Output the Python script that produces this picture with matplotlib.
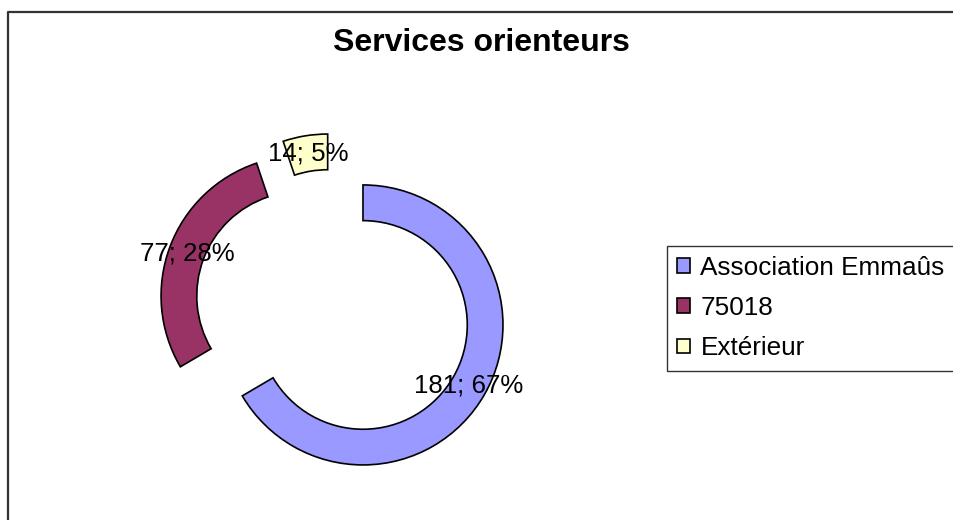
import matplotlib
matplotlib.use("Agg")
import matplotlib.pyplot as plt
from matplotlib.lines import Line2D

plt.rcParams['font.family'] = ['Liberation Sans', 'DejaVu Sans']

# Données
categories = ['Association Emmaûs', '75018', 'Extérieur']
values = [181, 77, 14]
colors = ['#9999FF', '#993366', '#FFFFCC']
title = 'Services orienteurs'

W, H = 954, 520
fig = plt.figure(figsize=(W / 100, H / 100), dpi=100)
ax = fig.add_axes([0, 0, 1, 1])

total = sum(values)


def fmt(pct):
    val = int(round(pct * total / 100.0))
    return f"{val}; {pct:.0f}%"


wedges, texts, autotexts = ax.pie(
    values, colors=colors, startangle=90, counterclock=False,
    explode=[0.245] * len(values), radius=1.0,
    wedgeprops=dict(width=0.255, edgecolor='black', linewidth=1.2),
    autopct=fmt, pctdistance=0.87,
    textprops=dict(fontsize=18.6, color='black'))

# 1 unit = 140 px, centre du graphe à (333, 308) px
scale = 140.0
cx, cy = 333.2, 307.9
ax.set_xlim(-cx / scale, (W - cx) / scale)
ax.set_ylim((cy - H) / scale, cy / scale)
ax.set_aspect('auto')
ax.axis('off')

fig.text(481 / W, 1 - 43 / H, title, ha='center', va='center',
         fontsize=23, fontweight='bold')

leg = fig.legend(wedges, categories, loc='upper left',
                 bbox_to_anchor=(666.5 / W, 1 - 245.5 / H, 0.5, 0),
                 mode='expand', borderaxespad=0, fontsize=18.8,
                 frameon=True, fancybox=False, edgecolor='black',
                 handlelength=0.5, handleheight=0.5, handletextpad=0.4,
                 borderpad=0.4, labelspacing=0.62)
leg.get_frame().set_linewidth(1.0)

# cadre du graphique
fig.add_artist(Line2D([8.5 / W, 8.5 / W, 1], [0, 1 - 12 / H, 1 - 12 / H],
                      transform=fig.transFigure, color='#333333', lw=1.6))

fig.savefig('out.png', dpi=100, facecolor='white')
